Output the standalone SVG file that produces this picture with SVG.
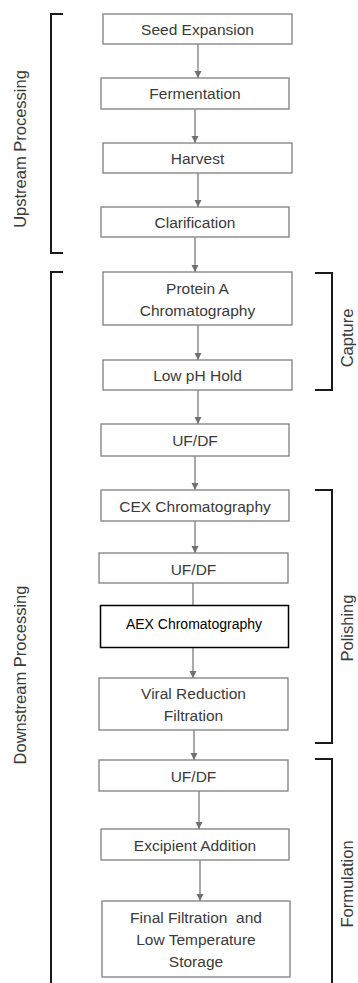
<svg xmlns="http://www.w3.org/2000/svg" width="358" height="983" viewBox="0 0 358 983">
<style>
.box{fill:#fff;stroke:#7f7f7f;stroke-width:1.3}
.t{font-family:"Liberation Sans",Arial,sans-serif;font-size:15.5px;fill:#3a3a3a;text-anchor:middle;dominant-baseline:central}
.aex{fill:#fff;stroke:#000;stroke-width:1.5}
.ta{font-family:"Liberation Sans",Arial,sans-serif;font-size:14px;fill:#000;text-anchor:middle;dominant-baseline:central}
.c{stroke:#707070;stroke-width:1.2;fill:none}
.br{stroke:#1a1a1a;stroke-width:2;fill:none}
.lbl{font-family:"Liberation Sans",Arial,sans-serif;font-size:16.5px;fill:#3a3a3a;text-anchor:middle;dominant-baseline:central}
</style>
<defs>
<marker id="ah" markerWidth="8" markerHeight="8" refX="7" refY="4" orient="auto" markerUnits="userSpaceOnUse">
<path d="M0,0.5 L7,4 L0,7.5 Z" fill="#707070"/>
</marker>
</defs>
<rect width="358" height="983" fill="#fff"/>
<g id="connectors">
<line class="c" x1="198" y1="44" x2="198" y2="78" marker-end="url(#ah)"/>
<line class="c" x1="195" y1="109" x2="195" y2="143" marker-end="url(#ah)"/>
<line class="c" x1="198" y1="173" x2="198" y2="207" marker-end="url(#ah)"/>
<line class="c" x1="195" y1="237" x2="195" y2="272" marker-end="url(#ah)"/>
<line class="c" x1="198" y1="325" x2="198" y2="360" marker-end="url(#ah)"/>
<line class="c" x1="198" y1="390" x2="198" y2="424" marker-end="url(#ah)"/>
<line class="c" x1="195" y1="456" x2="195" y2="490" marker-end="url(#ah)"/>
<line class="c" x1="195" y1="521" x2="195" y2="553" marker-end="url(#ah)"/>
<line class="c" x1="193" y1="583" x2="193" y2="605"/>
<line class="c" x1="193" y1="647" x2="193" y2="678" marker-end="url(#ah)"/>
<line class="c" x1="194" y1="730" x2="194" y2="760" marker-end="url(#ah)"/>
<line class="c" x1="199" y1="791" x2="199" y2="829" marker-end="url(#ah)"/>
<line class="c" x1="200" y1="860" x2="200" y2="901" marker-end="url(#ah)"/>
</g>
<g id="brackets">
<path class="br" d="M63,14 H51 V253 H63"/>
<path class="br" d="M63,272 H51 V983"/>
<path class="br" d="M315,273 H332 V390 H315"/>
<path class="br" d="M315,490 H332 V743 H315"/>
<path class="br" d="M315,759 H332 V983"/>
</g>
<g id="labels">
<text class="lbl" transform="translate(20,149) rotate(-90)">Upstream Processing</text>
<text class="lbl" transform="translate(20,675) rotate(-90)">Downstream Processing</text>
<text class="lbl" transform="translate(347,338) rotate(-90)">Capture</text>
<text class="lbl" transform="translate(347,628) rotate(-90)">Polishing</text>
<text class="lbl" transform="translate(347,884) rotate(-90)">Formulation</text>
</g>
<g id="seed"><rect class="box" x="103" y="14" width="189" height="30"/><text class="t" x="197.5" y="29">Seed Expansion</text></g>
<g id="fermentation"><rect class="box" x="101" y="78" width="188" height="31"/><text class="t" x="195" y="93.5">Fermentation</text></g>
<g id="harvest"><rect class="box" x="103" y="143" width="189" height="30"/><text class="t" x="197.5" y="158">Harvest</text></g>
<g id="clarification"><rect class="box" x="101" y="207" width="188" height="30"/><text class="t" x="195" y="222">Clarification</text></g>
<g id="proteinA"><rect class="box" x="103" y="272" width="189" height="53"/><text class="t" x="197.5" y="288">Protein A</text><text class="t" x="197.5" y="310">Chromatography</text></g>
<g id="lowph"><rect class="box" x="103" y="360" width="189" height="30"/><text class="t" x="197.5" y="375.5">Low pH Hold</text></g>
<g id="ufdf1"><rect class="box" x="101" y="424" width="188" height="32"/><text class="t" x="195" y="440">UF/DF</text></g>
<g id="cex"><rect class="box" x="101" y="490" width="188" height="31"/><text class="t" x="195" y="506">CEX Chromatography</text></g>
<g id="ufdf2"><rect class="box" x="99" y="553" width="189" height="30"/><text class="t" x="193.5" y="569">UF/DF</text></g>
<g id="aex"><rect class="aex" x="100.5" y="605.5" width="188" height="42"/><text class="ta" x="194" y="623.5">AEX Chromatography</text></g>
<g id="viral"><rect class="box" x="99" y="678" width="189" height="52"/><text class="t" x="193.5" y="693">Viral Reduction</text><text class="t" x="193.5" y="715">Filtration</text></g>
<g id="ufdf3"><rect class="box" x="99" y="760" width="189" height="31"/><text class="t" x="193.5" y="776">UF/DF</text></g>
<g id="excipient"><rect class="box" x="101" y="829" width="188" height="31"/><text class="t" x="195" y="845">Excipient Addition</text></g>
<g id="final"><rect class="box" x="102" y="901" width="188" height="76"/><text class="t" x="196" y="917" xml:space="preserve">Final Filtration  and</text><text class="t" x="196" y="939">Low Temperature</text><text class="t" x="196" y="961">Storage</text></g>
</svg>
